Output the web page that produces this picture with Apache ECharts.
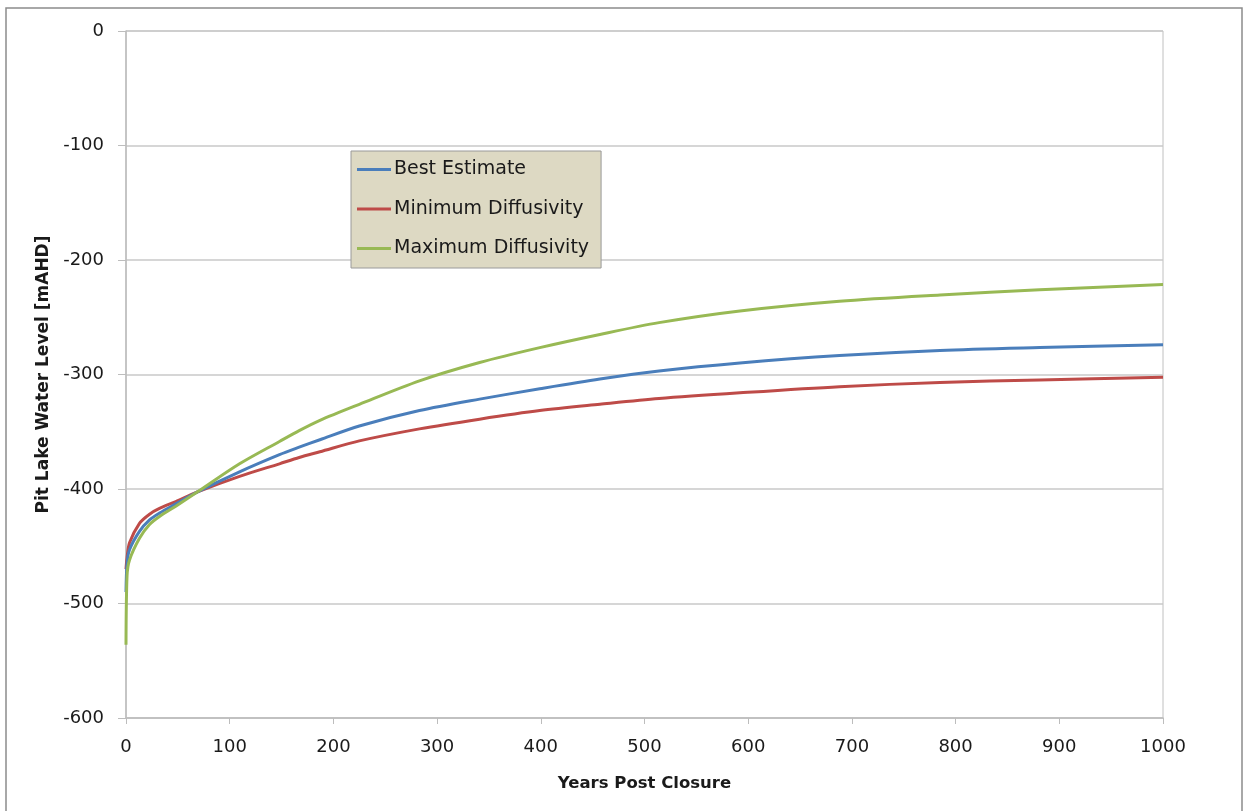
<!DOCTYPE html>
<html>
<head>
<meta charset="utf-8">
<script src="https://cdn.jsdelivr.net/npm/echarts@6/dist/echarts.min.js"></script>
<style>
  html, body { margin: 0; padding: 0; background: #fff; }
  #main { width: 1246px; height: 811px; }
</style>
</head>
<body>
<div id="main"></div>
<script>
// years post closure (shared by all three runs)
const years = [0, 1, 3.4, 13, 22.7, 32.3, 48, 69, 109.5, 148, 167, 187, 225, 283, 341, 399, 457, 514, 592, 688, 785, 881, 1000];

const bestEstimate   = [-490, -465, -453, -437, -427, -421, -413, -402.5, -385, -370, -363.5, -357, -345, -331.5, -321.5, -312.5, -304, -297, -290, -283.5, -279, -276.5, -274];
const minDiffusivity = [-470, -460, -447, -430, -422, -417, -411, -402.5, -389, -378, -372.5, -367.5, -358, -347.5, -339, -331.5, -326, -321, -316, -310.6, -307, -304.7, -302.5];
const maxDiffusivity = [-536, -476, -462, -443, -431, -424, -415, -402.5, -378, -358.5, -349, -340, -326, -305.5, -289.5, -276.5, -265, -254.7, -244.5, -236, -230.5, -226, -221.5];

const seriesNames = ['Best Estimate', 'Minimum Diffusivity', 'Maximum Diffusivity'];
const seriesColors = ['#4a7ebb', '#be4b48', '#98b954'];

function pairs(values) {
  return years.map((x, i) => [x, values[i]]);
}

const font = 'DejaVu Sans';
let chart = echarts.init(document.getElementById('main'));

function lineSeries(idx, values, z) {
  return {
    name: seriesNames[idx],
    type: 'line',
    data: pairs(values),
    showSymbol: false,
    smooth: 0.3,
    z: z,
    lineStyle: { color: seriesColors[idx], width: 3 },
    itemStyle: { color: seriesColors[idx] }
  };
}

chart.setOption({
  animation: false,
  textStyle: { fontFamily: font },
  graphic: [{
    type: 'rect',
    shape: { x: 6, y: 8, width: 1236, height: 820 },
    style: { fill: 'none', stroke: '#8c8c8c', lineWidth: 1.5 },
    silent: true
  }],
  grid: {
    left: 126, right: 83, top: 31, bottom: 93,
    show: true, borderColor: '#c0c0c0', borderWidth: 1
  },
  legend: {
    orient: 'vertical',
    left: 351, top: 151,
    backgroundColor: '#ddd9c3',
    borderColor: '#9a9a9a',
    borderWidth: 1,
    padding: [9, 12, 10, 6],
    itemGap: 20.5,
    itemWidth: 34,
    itemHeight: 3,
    icon: 'rect',
    textStyle: { fontFamily: font, fontSize: 19, color: '#1a1a1a', padding: [0, 0, 0, -2] },
    data: seriesNames
  },
  xAxis: {
    type: 'value',
    min: 0, max: 1000, interval: 100,
    name: 'Years Post Closure',
    nameLocation: 'middle',
    nameGap: 57,
    nameTextStyle: { fontFamily: font, fontSize: 16.5, fontWeight: 'bold', color: '#1a1a1a' },
    axisLine: { show: true, onZero: false, lineStyle: { color: '#bdbdbd', width: 1.5 } },
    axisTick: { show: true, inside: false, length: 6, lineStyle: { color: '#bdbdbd' } },
    axisLabel: { fontFamily: font, fontSize: 18, color: '#1a1a1a', margin: 20, formatter: v => String(v) },
    splitLine: { show: false }
  },
  yAxis: {
    type: 'value',
    min: -600, max: 0, interval: 100,
    name: 'Pit Lake Water Level [mAHD]',
    nameLocation: 'middle',
    nameGap: 73,
    nameTextStyle: { fontFamily: font, fontSize: 17, fontWeight: 'bold', color: '#1a1a1a' },
    axisLine: { show: true, lineStyle: { color: '#bdbdbd', width: 1.5 } },
    axisTick: { show: true, inside: false, length: 8, lineStyle: { color: '#bdbdbd' } },
    axisLabel: { fontFamily: font, fontSize: 18, color: '#1a1a1a', margin: 22 },
    splitLine: { show: true, lineStyle: { color: '#c8c8c8', width: 1.5 } }
  },
  series: [
    lineSeries(1, minDiffusivity, 2),
    lineSeries(0, bestEstimate, 3),
    lineSeries(2, maxDiffusivity, 4)
  ]
});
</script>
</body>
</html>
